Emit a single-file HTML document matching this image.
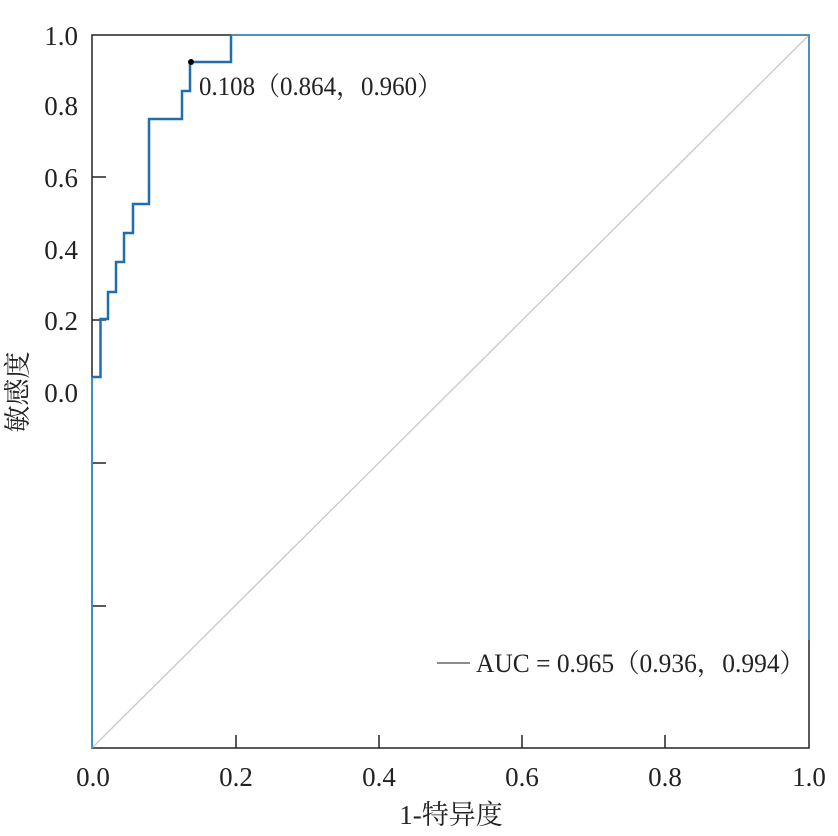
<!DOCTYPE html>
<html><head><meta charset="utf-8"><style>
html,body{margin:0;padding:0;background:#fff;}
svg text{font-family:"Liberation Serif","Noto Serif CJK SC",serif;fill:#222;}
</style></head><body>
<svg width="838" height="831" xmlns="http://www.w3.org/2000/svg">
<rect x="92" y="35" width="717" height="713" fill="none" stroke="#222" stroke-width="1.5"/>
<line x1="92" y1="748" x2="809" y2="35" stroke="#c8c8c8" stroke-width="1.3"/>
<g stroke="#222" stroke-width="1.5">
<line x1="92" y1="177" x2="106" y2="177"/>
<line x1="92" y1="320" x2="106" y2="320"/>
<line x1="92" y1="463" x2="106" y2="463"/>
<line x1="92" y1="606" x2="106" y2="606"/>
<line x1="236" y1="748" x2="236" y2="735"/>
<line x1="379" y1="748" x2="379" y2="735"/>
<line x1="522" y1="748" x2="522" y2="735"/>
<line x1="665" y1="748" x2="665" y2="735"/>
</g>
<polyline fill="none" stroke="#3a8fc8" stroke-width="1.5" points="231,35 809,35 809,640"/>
<line x1="92" y1="748" x2="92" y2="377" stroke="#3a8fc8" stroke-width="1.8"/>
<polyline fill="none" stroke="#1f6fae" stroke-width="2.5" points="92,377 100.5,377 100.5,319 108,319 108,292 116,292 116,262 124,262 124,233 133,233 133,204 149,204 149,119 182,119 182,91 190,91 190,62 231,62 231,35"/>
<circle cx="191" cy="62" r="3" fill="#000"/>
<text x="199" y="95" font-size="26" textLength="243" lengthAdjust="spacingAndGlyphs">0.108（0.864，0.960）</text>
<line x1="437" y1="663" x2="470" y2="663" stroke="#666" stroke-width="1.5"/>
<text x="476" y="672" font-size="26" textLength="329" lengthAdjust="spacingAndGlyphs">AUC = 0.965（0.936，0.994）</text>
<g font-size="27" text-anchor="end">
<text x="78" y="45">1.0</text>
<text x="78" y="115">0.8</text>
<text x="78" y="187">0.6</text>
<text x="78" y="259">0.4</text>
<text x="78" y="330">0.2</text>
<text x="78" y="402">0.0</text>
</g>
<g font-size="27" text-anchor="middle">
<text x="93" y="786">0.0</text>
<text x="236" y="786">0.2</text>
<text x="379" y="786">0.4</text>
<text x="522" y="786">0.6</text>
<text x="665" y="786">0.8</text>
<text x="809" y="786">1.0</text>
<text x="451" y="824">1-特异度</text>
</g>
<text transform="translate(27,392) rotate(-90)" font-size="27" text-anchor="middle">敏感度</text>
</svg>
</body></html>
